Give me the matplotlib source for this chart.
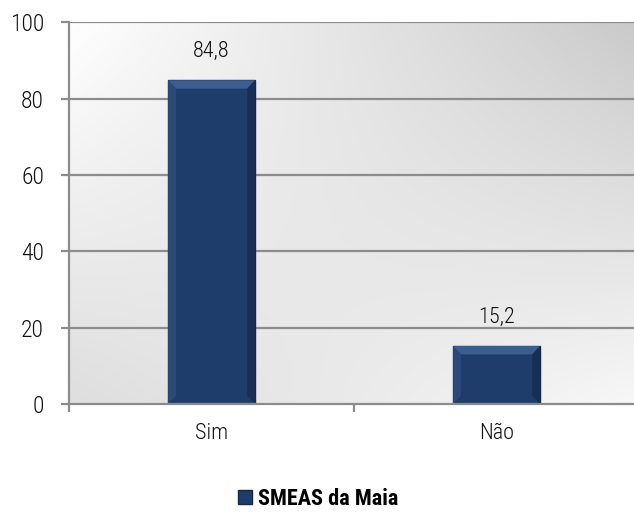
import numpy as np
import matplotlib
matplotlib.use('Agg')
import matplotlib.pyplot as plt
from matplotlib.patches import Polygon
from matplotlib.lines import Line2D

categorias = ['Sim', 'Não']
valores = [84.8, 15.2]
rotulos = ['84,8', '15,2']
serie = 'SMEAS da Maia'
yticks = [0, 20, 40, 60, 80, 100]

familia = ['Roboto Condensed', 'DejaVu Sans']
plt.rcParams['font.family'] = familia
plt.rcParams['font.weight'] = 'light'

cor_barra = '#1f3d6a'
cor_grade = '#8c8c8c'

fig = plt.figure(figsize=(6.34, 5.16), dpi=100)
ax = fig.add_axes([0.109, 0.217, 0.899, 0.740])

x = np.arange(len(categorias))
ax.set_xlim(-0.5, len(categorias) - 0.5)
ax.set_ylim(0, 100)

# fundo em degradê
cantos = np.array([[1.00, 0.79], [0.87, 0.97]])
u = np.linspace(0, 1, 200)
v = np.linspace(0, 1, 200)
U, V = np.meshgrid(u, v)
g = (cantos[0, 0] * (1 - U) * (1 - V) + cantos[0, 1] * U * (1 - V)
     + cantos[1, 0] * (1 - U) * V + cantos[1, 1] * U * V)
ax.imshow(np.dstack([g, g, g]), extent=[-0.5, len(categorias) - 0.5, 0, 100],
          aspect='auto', zorder=0, interpolation='bilinear')

for yv in yticks[1:]:
    ax.axhline(yv, color=cor_grade, lw=1.6, zorder=1)

largura = 0.305
barras = ax.bar(x, valores, width=largura, color=cor_barra, edgecolor='#142a4c',
                linewidth=1.0, zorder=3)

# efeito de bisel
for b in barras:
    x0, y0 = b.get_x(), b.get_y()
    w, h = b.get_width(), b.get_height()
    dx = w * 0.09
    dy = min(h * 0.3, 2.2)
    ax.add_patch(Polygon([[x0, y0 + h], [x0 + w, y0 + h], [x0 + w - dx, y0 + h - dy],
                          [x0 + dx, y0 + h - dy]], closed=True, color='#3b5d8f', zorder=4, lw=0))
    ax.add_patch(Polygon([[x0, y0], [x0, y0 + h], [x0 + dx, y0 + h - dy], [x0 + dx, y0 + dy]],
                         closed=True, color='#2a4a7a', zorder=4, lw=0))
    ax.add_patch(Polygon([[x0 + w, y0], [x0 + w, y0 + h], [x0 + w - dx, y0 + h - dy],
                          [x0 + w - dx, y0 + dy]], closed=True, color='#172f55', zorder=4, lw=0))

for xi, val, txt in zip(x, valores, rotulos):
    ax.annotate(txt, (xi, val), xytext=(0, 13), textcoords='offset points',
                ha='center', va='bottom', fontsize=16, color='#111111')

for s in ['top', 'right']:
    ax.spines[s].set_visible(False)
for s in ['left', 'bottom']:
    ax.spines[s].set_color(cor_grade)
    ax.spines[s].set_linewidth(1.6)
    ax.spines[s].set_zorder(5)

ax.set_yticks(yticks)
ax.tick_params(axis='y', length=6, width=1.6, color=cor_grade, labelsize=17, pad=12,
               labelcolor='#111111')
ax.set_xticks(x)
ax.set_xticklabels(categorias)
ax.set_xticks(np.arange(len(categorias) + 1) - 0.5, minor=True)
ax.tick_params(axis='x', which='major', length=0, labelsize=16, pad=14, labelcolor='#111111')
ax.tick_params(axis='x', which='minor', length=6, width=1.6, color=cor_grade)

marcador = Line2D([], [], marker='s', linestyle='none', markersize=10,
                  markerfacecolor=cor_barra, markeredgecolor='#142a4c')
fig.legend([marcador], [serie], loc='center', bbox_to_anchor=(0.5, 0.033),
           frameon=False, handletextpad=0.2, handlelength=0.8,
           prop={'weight': 'bold', 'size': 16, 'family': familia})

fig.savefig('out.png', dpi=100)
